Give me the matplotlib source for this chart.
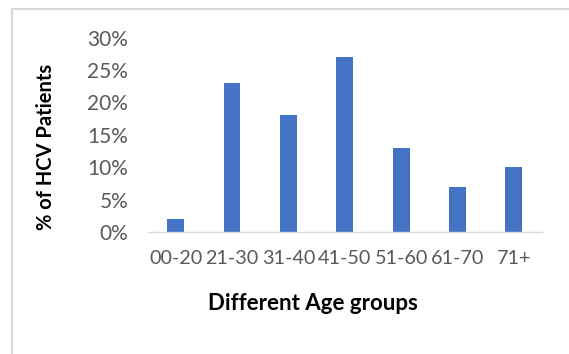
import matplotlib.pyplot as plt
from matplotlib.patches import Rectangle
from matplotlib.ticker import PercentFormatter

age_groups = ["00-20", "21-30", "31-40", "41-50", "51-60", "61-70", "71+"]
hcv_percent = [2, 23, 18, 27, 13, 7, 10]
y_ticks = [0, 5, 10, 15, 20, 25, 30]

bar_color = "#4472C4"
label_gray = "#595959"
line_gray = "#D9D9D9"

fig = plt.figure(figsize=(5.69, 3.54), dpi=100)
ax = fig.add_axes([147.5 / 569, 1 - 232 / 354, 394.5 / 569, (232 - 37.7) / 354])

ax.bar(range(len(age_groups)), hcv_percent, width=0.3, color=bar_color)
ax.set_xlim(-0.5, len(age_groups) - 0.5)
ax.set_ylim(0, 30)

ax.set_yticks(y_ticks)
ax.yaxis.set_major_formatter(PercentFormatter(decimals=0))
ax.set_xticks(range(len(age_groups)))
ax.set_xticklabels(age_groups)

for s in ["top", "right", "left"]:
    ax.spines[s].set_visible(False)
ax.spines["bottom"].set_color(line_gray)
ax.spines["bottom"].set_linewidth(1.0)

ax.tick_params(axis="y", length=0, pad=14, labelsize=15, labelcolor=label_gray)
ax.tick_params(axis="x", length=0, pad=13, labelsize=14.2, labelcolor=label_gray)
for lbl in ax.get_xticklabels() + ax.get_yticklabels():
    lbl.set_fontfamily("Lato")

ax.set_ylabel("% of HCV Patients", fontsize=14.5, fontweight="bold", fontfamily="Lato")
ax.yaxis.set_label_coords(-0.232, 0.438)
ax.set_xlabel("Different Age groups", fontsize=16, fontweight="bold", fontfamily="Lato")
ax.xaxis.set_label_coords(0.42, -0.315)

# chart frame, runs off the right and bottom edges
fig.patches.append(Rectangle((12 / 569, -0.1), 1.2, 1 - 8.5 / 354 + 0.1,
                             transform=fig.transFigure, fill=False,
                             edgecolor=line_gray, linewidth=1.5))

fig.savefig("out.png", dpi=100)
